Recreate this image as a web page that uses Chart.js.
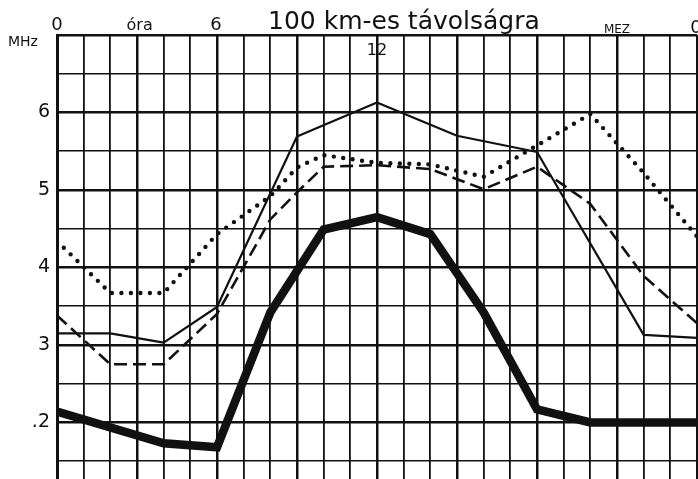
<!DOCTYPE html>
<html><head><meta charset="utf-8">
<script src="https://cdn.jsdelivr.net/npm/chart.js@4"></script>
<style>html,body{margin:0;padding:0;background:#fff;overflow:hidden}canvas{display:block}</style>
</head><body>
<canvas id="c" width="698" height="479"></canvas>
<script>
// ---- data ----
const hoursThick = [0, 4, 6, 8, 10, 12, 14, 16, 18, 20, 24];
const mhzThick   = [2.14, 1.73, 1.68, 3.42, 4.49, 4.65, 4.43, 3.42, 2.17, 2.0, 2.0];

const hoursThin = [0, 2, 4, 6, 9, 12, 15, 18, 22, 24];
const mhzThin   = [3.15, 3.15, 3.03, 3.49, 5.69, 6.13, 5.7, 5.49, 3.13, 3.09];

const hoursDashed = [0, 2, 4, 6, 8, 9, 10, 12, 14, 16, 18, 20, 22, 24];
const mhzDashed   = [3.38, 2.75, 2.75, 3.4, 4.62, 4.97, 5.3, 5.32, 5.27, 5.01, 5.3, 4.82, 3.89, 3.28];

const hoursDotted = [0, 2, 4, 6, 8, 9, 10, 12, 14, 16, 20, 22, 24];
const mhzDotted   = [4.34, 3.67, 3.67, 4.43, 4.92, 5.29, 5.45, 5.35, 5.33, 5.17, 5.98, 5.22, 4.4];

const xTickValues = [0,1,2,3,4,5,6,7,8,9,10,11,12,13,14,15,16,17,18,19,20,21,22,23,24];
const yTickValues = [1.5, 2, 2.5, 3, 3.5, 4, 4.5, 5, 5.5, 6, 6.5, 7];
const yLabelValues = [2, 3, 4, 5, 6];
const yLabelTexts  = ['.2', '3', '4', '5', '6'];

const titleText = '100 km-es távolságra';
const unitText = 'MHz';
const hourWord = 'óra';
const zoneText = 'MEZ';
const topHourLabels = ['0', '6', '12', '0'];

function pts(hs, vs) { return hs.map((h, i) => ({ x: h, y: vs[i] })); }

const INK = '#111';
const FONT = "'DejaVu Sans', 'Liberation Sans', sans-serif";

const textPlugin = {
  id: 'textPlugin',
  afterDraw(chart) {
    const ctx = chart.ctx;
    const xs = chart.scales.x;
    ctx.save();
    ctx.fillStyle = INK;
    ctx.textBaseline = 'alphabetic';
    ctx.textAlign = 'center';
    // top hour labels
    ctx.font = '18px ' + FONT;
    ctx.fillText(topHourLabels[0], xs.getPixelForValue(0), 30);
    ctx.fillText(topHourLabels[1], xs.getPixelForValue(6) - 1, 30);
    ctx.fillText(topHourLabels[3], xs.getPixelForValue(24) - 1, 33);
    ctx.font = '16px ' + FONT;
    ctx.fillText(hourWord, xs.getPixelForValue(3.1), 30);
    ctx.font = '12px ' + FONT;
    ctx.fillText(zoneText, xs.getPixelForValue(21), 33);
    // 12 inside the grid
    ctx.font = '16px ' + FONT;
    ctx.fillText(topHourLabels[2], xs.getPixelForValue(12), 55);
    // unit
    ctx.textAlign = 'left';
    ctx.font = '14px ' + FONT;
    ctx.fillText(unitText, 8, 46);
    // title fitted to its width in the picture
    let size = 24;
    ctx.font = size + 'px ' + FONT;
    const w = ctx.measureText(titleText).width;
    size = size * 272 / w;
    ctx.font = size.toFixed(1) + 'px ' + FONT;
    ctx.fillText(titleText, 268, 29);
    ctx.restore();
  }
};

new Chart(document.getElementById('c'), {
  type: 'line',
  data: {
    datasets: [
      { data: pts(hoursDotted, mhzDotted), borderColor: INK, borderWidth: 4.4,
        borderDash: [0, 9.5], borderCapStyle: 'round', borderJoinStyle: 'round', pointRadius: 0, tension: 0 },
      { data: pts(hoursDashed, mhzDashed), borderColor: INK, borderWidth: 2.6,
        borderDash: [13, 6], borderJoinStyle: 'round', pointRadius: 0, tension: 0 },
      { data: pts(hoursThin, mhzThin), borderColor: INK, borderWidth: 2.2,
        borderJoinStyle: 'round', pointRadius: 0, tension: 0 },
      { data: pts(hoursThick, mhzThick), borderColor: INK, borderWidth: 8.5,
        borderJoinStyle: 'miter', pointRadius: 0, tension: 0 }
    ]
  },
  options: {
    responsive: false,
    animation: false,
    devicePixelRatio: 1,
    layout: { padding: { top: 35, right: 1, left: 0, bottom: 0 } },
    plugins: { legend: { display: false }, tooltip: { enabled: false }, title: { display: false } },
    scales: {
      x: {
        type: 'linear', min: 0, max: 24, position: 'bottom',
        afterBuildTicks(s) { s.ticks = xTickValues.map(v => ({ value: v })); },
        afterFit(s) { s.height = 0; s.paddingLeft = 0; s.paddingRight = 0; },
        ticks: { display: false },
        border: { display: false },
        grid: { drawTicks: false, color: INK,
          lineWidth: c => (c.tick && c.tick.value % 3 === 0) ? 2.5 : 1.8 }
      },
      y: {
        type: 'linear', min: 1.27, max: 7,
        afterBuildTicks(s) { s.ticks = yTickValues.map(v => ({ value: v })); },
        afterFit(s) { s.width = 57; s.paddingTop = 0; s.paddingBottom = 0; },
        border: { display: true, color: INK, width: 3 },
        grid: { drawTicks: false, color: INK,
          lineWidth: c => (c.tick && Number.isInteger(c.tick.value)) ? 2.5 : 1.5 }
      ,
        ticks: {
          color: INK, padding: 7, font: { size: 19, family: FONT },
          callback: v => { const i = yLabelValues.indexOf(v); return i >= 0 ? yLabelTexts[i] : ''; }
        }
      }
    }
  },
  plugins: [textPlugin]
});
</script>
</body></html>
